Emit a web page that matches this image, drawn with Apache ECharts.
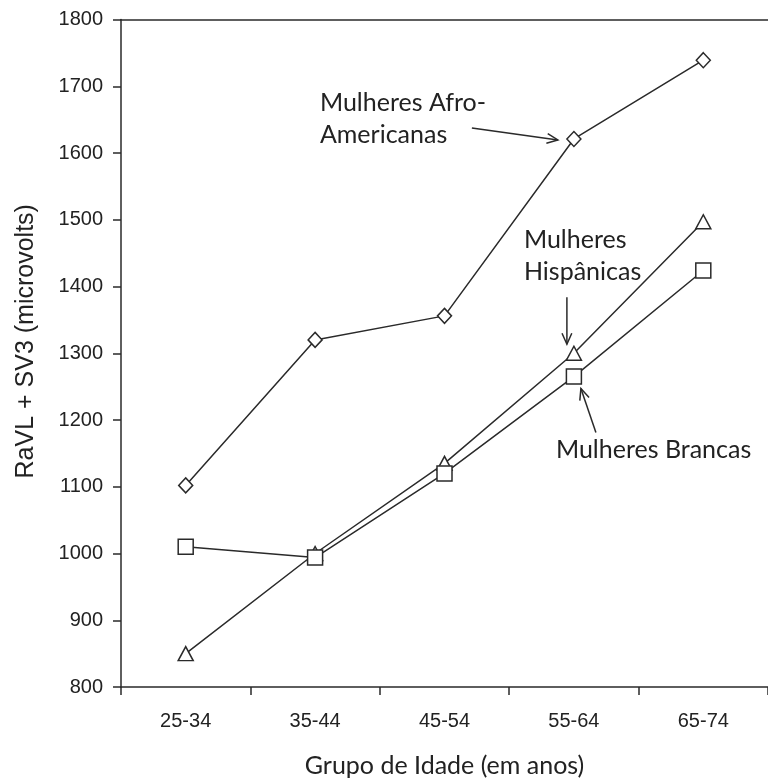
<!DOCTYPE html>
<html>
<head>
<meta charset="utf-8">
<script src="https://cdn.jsdelivr.net/npm/echarts@6/dist/echarts.min.js"></script>
<style>
html,body{margin:0;padding:0;background:#fff;}
#chart{width:768px;height:783px;}
</style>
</head>
<body>
<div id="chart"></div>
<script>
const categories = ['25-34', '35-44', '45-54', '55-64', '65-74'];
const afroAmericanas = [1102, 1320, 1356, 1621, 1739];
const hispanicas = [850, 1000, 1135, 1300, 1497];
const brancas = [1010, 994, 1120, 1265, 1424];
const yMin = 800, yMax = 1800, yInterval = 100;
const yTitle = 'RaVL + SV3 (microvolts)';
const xTitle = 'Grupo de Idade (em anos)';
const labelAfro = ['Mulheres Afro-', 'Americanas'];
const labelHisp = ['Mulheres', 'Hispânicas'];
const labelBrancas = ['Mulheres Brancas'];

const ink = '#2a2a2a';
const annFont = 'Lato, "Open Sans", sans-serif';
const tickFont = '"Liberation Sans", Arial, sans-serif';
const chart = echarts.init(document.getElementById('chart'), null, {renderer: 'canvas'});

function lineSeries(name, data, symbol, size) {
  return {
    name, type: 'line', data, symbol, symbolSize: size,
    showSymbol: true,
    lineStyle: {color: ink, width: 1.5},
    itemStyle: {color: '#fff', borderColor: ink, borderWidth: 1.5},
    emphasis: {disabled: true},
    animation: false,
    z: 3
  };
}

const option = {
  animation: false,
  grid: {left: 121, top: 19.5, width: 655, height: 667.5, containLabel: false},
  xAxis: [{
    type: 'category', data: categories, boundaryGap: true, position: 'bottom',
    axisLine: {lineStyle: {color: ink, width: 1.5}},
    axisTick: {show: true, length: 8, lineStyle: {color: ink, width: 1.5}},
    axisLabel: {margin: 24, fontSize: 20, color: '#222', fontFamily: tickFont},
    name: xTitle, nameLocation: 'middle', nameGap: 66,
    nameTextStyle: {fontSize: 25, color: '#222', fontFamily: annFont},
    splitLine: {show: false}
  }, {
    type: 'category', data: categories, position: 'top',
    axisLine: {show: true, lineStyle: {color: ink, width: 1.5}},
    axisTick: {show: false}, axisLabel: {show: false}, splitLine: {show: false}
  }],
  yAxis: {
    type: 'value', min: yMin, max: yMax, interval: yInterval,
    axisLine: {show: true, lineStyle: {color: ink, width: 1.5}},
    axisTick: {show: true, length: 8, lineStyle: {color: ink, width: 1.5}},
    axisLabel: {margin: 18, fontSize: 20, color: '#222', fontFamily: tickFont, formatter: v => String(v)},
    splitLine: {show: false},
    name: yTitle, nameLocation: 'middle', nameGap: 82, nameRotate: 90,
    nameTextStyle: {fontSize: 25, color: '#222', fontFamily: tickFont, padding: [0, 0, 0, 24]}
  },
  series: [
    lineSeries('Afro', afroAmericanas, 'diamond', [14, 15]),
    lineSeries('Hisp', hispanicas, 'triangle', [15, 14]),
    lineSeries('Brancas', brancas, 'rect', [15, 15])
  ]
};
chart.setOption(option);

function px(i, v) { return chart.convertToPixel({xAxisIndex: 0, yAxisIndex: 0}, [i, v]); }

function arrow(x1, y1, x2, y2) {
  const ang = Math.atan2(y2 - y1, x2 - x1);
  const L = 12, w = 0.42;
  return [
    {type: 'line', shape: {x1, y1, x2, y2}, style: {stroke: ink, lineWidth: 1.5}, silent: true, z: 10},
    {type: 'polyline', shape: {points: [
      [x2 - L * Math.cos(ang - w), y2 - L * Math.sin(ang - w)],
      [x2, y2],
      [x2 - L * Math.cos(ang + w), y2 - L * Math.sin(ang + w)]
    ]}, style: {stroke: ink, lineWidth: 1.5, fill: null}, silent: true, z: 10}
  ];
}
function textBlock(lines, x, yTop, lh) {
  return lines.map((t, k) => ({
    type: 'text', x, y: yTop + k * lh, silent: true, z: 10,
    style: {text: t, fill: '#222', font: '25px ' + annFont, textVerticalAlign: 'middle', textAlign: 'left'}
  }));
}

const pA = px(3, afroAmericanas[3]);
const pH = px(3, hispanicas[3]);
const pB = px(3, brancas[3]);
let elements = [];
elements = elements.concat(textBlock(labelAfro, pA[0] - 254, pA[1] - 36, 32));
elements = elements.concat(arrow(pA[0] - 102, pA[1] - 11, pA[0] - 16, pA[1] + 1));
elements = elements.concat(textBlock(labelHisp, pH[0] - 50, pH[1] - 113, 32));
elements = elements.concat(arrow(pH[0] - 7, pH[1] - 56, pH[0] - 7, pH[1] - 9));
elements = elements.concat(textBlock(labelBrancas, pB[0] - 18, pB[1] + 73, 32));
elements = elements.concat(arrow(pB[0] + 22, pB[1] + 56, pB[0] + 7, pB[1] + 12));
chart.setOption({graphic: {elements}});
</script>
</body>
</html>
